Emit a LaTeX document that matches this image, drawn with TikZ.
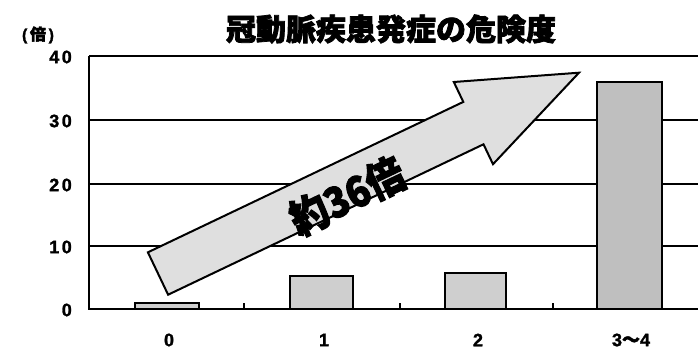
\documentclass[tikz,border=0pt]{standalone}
\usepackage{fontspec}
\setmainfont{Liberation Sans}
\newfontfamily\cjk{Noto Sans CJK JP}[BoldFeatures={FakeBold=2.5}]
\newfontfamily\numf[LetterSpace=14,FakeBold=1.5]{Liberation Sans}
\begin{document}
\begin{tikzpicture}[x=1pt,y=-1pt,
  grid/.style={line width=1.5pt},
  axisline/.style={line width=2pt},
  barbox/.style={draw,line width=2pt,fill=gray!38},
  ylab/.style={anchor=east,inner sep=0pt,font=\numf\bfseries\fontsize{18}{18}\selectfont},
  xlab/.style={anchor=center,inner sep=0pt,font=\numf\bfseries\fontsize{18}{18}\selectfont},
]
\useasboundingbox[fill=white] (0,0) rectangle (698,350);
% title
\node[inner sep=0pt,font=\cjk\bfseries\fontsize{30}{30}\selectfont] (title) at (391,29) {冠動脈疾患発症の危険度};
\node[inner sep=0pt,font=\numf\bfseries\fontsize{16}{16}\selectfont] (unit) at (38,35) {(\,{\cjk\bfseries 倍}\,)};
% grid
\foreach \yy in {56,120,184,246} \draw[grid] (89,\yy) -- (698,\yy);
\draw[axisline] (89,56) -- (89,309) -- (698,309);
% ticks
\foreach \xx in {244,400,553} \draw[line width=1.5pt] (\xx,309) -- (\xx,303);
% y labels
\node[ylab] (y40) at (72,57) {40};
\node[ylab] (y30) at (72,121) {30};
\node[ylab] (y20) at (72,185) {20};
\node[ylab] (y10) at (72,247) {10};
\node[ylab] (y0) at (72,310) {0};
% bars
\draw[barbox] (135,309) rectangle (199,303);
\draw[barbox] (290,309) rectangle (353,276);
\draw[barbox] (445,309) rectangle (506,273);
\draw[barbox,fill=gray!50] (597,309) rectangle (662,82);
% x labels
\node[xlab] (x0) at (169,340) {0};
\node[xlab] (x1) at (324,340) {1};
\node[xlab] (x2) at (478,340) {2};
\node[xlab] (x3) at (631,340) {3{\cjk\bfseries ～}4};
% arrow
\draw[line width=2pt,line join=miter,fill=gray!25]
  (147.9,252.3) -- (463.3,101.9) -- (453.8,82.0) -- (579.0,72.7)
  -- (493.0,164.2) -- (483.5,144.3) -- (168.1,294.7) -- cycle;
\node[inner sep=0pt,rotate=25.5,xscale=0.9,font=\cjk\bfseries\fontsize{42}{42}\selectfont] (lab) at (347,196) {約36倍};
\end{tikzpicture}
\end{document}
